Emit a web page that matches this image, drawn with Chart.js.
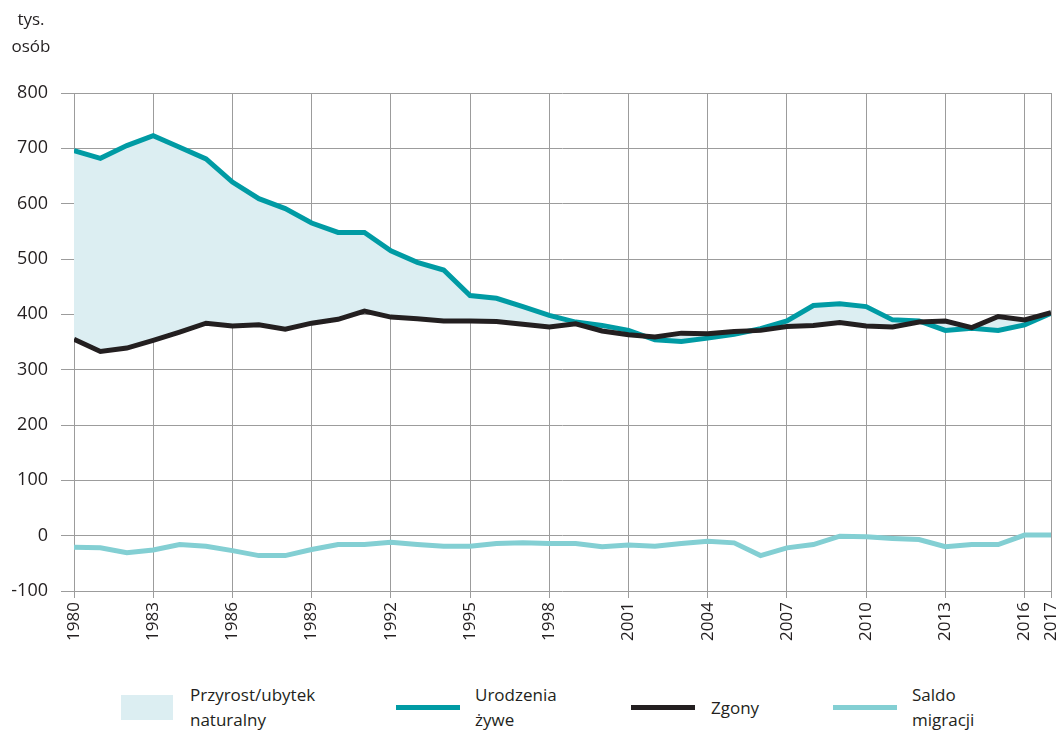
<!DOCTYPE html>
<html>
<head>
<meta charset="utf-8">
<script src="https://cdn.jsdelivr.net/npm/chart.js@4/dist/chart.umd.min.js"></script>
<style>
    body { margin: 0; background: #fff; font-family: "Open Sans", sans-serif; color: #231f20; }
    #wrap { position: relative; width: 1058px; height: 730px; }
    #chart { position: absolute; left: 0; top: 0; }
    .ytitle { position: absolute; left: 0; width: 62px; text-align: center; font-size: 17px; line-height: 27px; top: 5px; }
    .lg { position: absolute; font-size: 17px; line-height: 25px; }
    .sw { position: absolute; }
</style>
</head>
<body>
<div id="wrap">
    <canvas id="chart" width="1058" height="660"></canvas>
    <div class="ytitle">tys.<br>osób</div>

    <div class="sw" style="left:121px; top:695px; width:52px; height:25px; background:#dceef2;"></div>
    <div class="lg" style="left:190px; top:682px;">Przyrost/ubytek<br>naturalny</div>

    <div class="sw" style="left:396px; top:705px; width:64px; height:5px; background:#009ba4;"></div>
    <div class="lg" style="left:475px; top:682px;">Urodzenia<br>żywe</div>

    <div class="sw" style="left:631px; top:705px; width:64px; height:5px; background:#231f20;"></div>
    <div class="lg" style="left:711px; top:695px;">Zgony</div>

    <div class="sw" style="left:833px; top:705px; width:64px; height:5px; background:#83cfd3;"></div>
    <div class="lg" style="left:912px; top:682px;">Saldo<br>migracji</div>
</div>

<script>
// Data (tys. osób)
const years = [];
for (let y = 1980; y <= 2017; y++) years.push(y);

const tickYears = [1980, 1983, 1986, 1989, 1992, 1995, 1998, 2001, 2004, 2007, 2010, 2013, 2016, 2017];
const yTicks = [-100, 0, 100, 200, 300, 400, 500, 600, 700, 800];

const births = [696, 682, 705, 723, 702, 681, 639, 609, 591, 565, 548, 548, 515, 494, 480,
    434, 429, 414, 398, 386, 380, 371, 354, 351, 357, 364, 374, 388, 416, 419,
    414, 390, 388, 371, 375, 371, 381, 402];

const deaths = [355, 333, 339, 353, 368, 384, 379, 381, 373, 384, 391, 406, 395, 392, 388,
    388, 387, 382, 377, 383, 370, 363, 359, 366, 365, 369, 371, 378, 380, 385,
    379, 377, 386, 388, 376, 396, 390, 403];

const migration = [-21, -22, -31, -26, -16, -19, -27, -36, -36, -25, -16, -16, -12, -16, -19,
    -19, -14, -13, -14, -14, -20, -17, -19, -14, -10, -13, -36, -22, -16, -1,
    -2, -5, -7, -20, -16, -16, 1, 1];

const toPoints = arr => arr.map((v, i) => ({ x: years[i], y: v }));

const gridColor = '#9c9c9c';
const textColor = '#231f20';

new Chart(document.getElementById('chart'), {
    type: 'line',
    data: {
        datasets: [
            {
                label: 'Zgony',
                data: toPoints(deaths),
                borderColor: '#231f20',
                borderWidth: 5,
                pointRadius: 0,
                fill: false
            },
            {
                label: 'Urodzenia żywe',
                data: toPoints(births),
                borderColor: '#009ba4',
                borderWidth: 5,
                pointRadius: 0,
                fill: { target: '-1', above: '#dceef2', below: '#dceef2' }
            },
            {
                label: 'Saldo migracji',
                data: toPoints(migration),
                borderColor: '#83cfd3',
                borderWidth: 5,
                pointRadius: 0,
                fill: false
            }
        ]
    },
    options: {
        responsive: false,
        animation: false,
        layout: { padding: { top: 93, right: 7, left: 0, bottom: 0 } },
        elements: { line: { tension: 0, borderJoinStyle: 'miter', borderCapStyle: 'butt' } },
        plugins: {
            legend: { display: false },
            tooltip: { enabled: false },
            filler: { drawTime: 'beforeDatasetsDraw' }
        },
        scales: {
            x: {
                type: 'linear',
                min: 1980,
                max: 2017,
                afterBuildTicks: axis => { axis.ticks = tickYears.map(v => ({ value: v })); },
                afterFit: axis => {
                    axis.height = 69;
                    axis.paddingLeft = 0;
                    axis.paddingRight = 0;
                },
                border: { display: false },
                grid: { color: gridColor, lineWidth: 1, tickLength: 7, drawTicks: true },
                ticks: {
                    autoSkip: false,
                    maxRotation: 90,
                    minRotation: 90,
                    padding: 4,
                    color: textColor,
                    font: { family: 'Open Sans', size: 17 },
                    callback: v => String(v)
                }
            },
            y: {
                min: -100,
                max: 800,
                afterBuildTicks: axis => { axis.ticks = yTicks.map(v => ({ value: v })); },
                afterFit: axis => { axis.width = 74; },
                border: { display: false },
                grid: { color: gridColor, lineWidth: 1, tickLength: 13, drawTicks: true },
                ticks: {
                    padding: 13,
                    color: textColor,
                    font: { family: 'Open Sans', size: 18 }
                }
            }
        }
    }
});
</script>
</body>
</html>
